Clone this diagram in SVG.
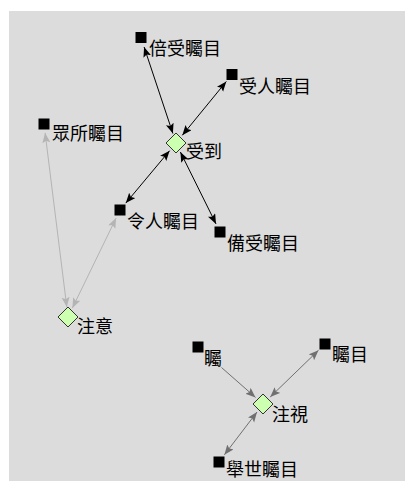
<svg xmlns="http://www.w3.org/2000/svg" width="405" height="481" viewBox="0 0 405 481">
<style>
.bg{fill:#dcdcdc}
.sq{fill:#000}
.dm{fill:#ccffb0;stroke:#333;stroke-width:1}
.lbl{font-family:"Noto Sans CJK TC","Noto Sans CJK SC",sans-serif;font-size:18px;fill:#000}
.c1{stroke:#000;stroke-width:1;fill:none;marker-start:url(#a1);marker-end:url(#a1)}
.c2{stroke:#b4b4b4;stroke-width:1;fill:none;marker-start:url(#a2);marker-end:url(#a2)}
.c3{stroke:#707070;stroke-width:1;fill:none;marker-start:url(#a3);marker-end:url(#a3)}
</style>
<defs>
<marker id="a1" markerUnits="userSpaceOnUse" markerWidth="11" markerHeight="9" refX="10" refY="4" orient="auto-start-reverse"><path d="M0,0 L10,4 L0,8 L2,4 z" fill="#000"/></marker>
<marker id="a2" markerUnits="userSpaceOnUse" markerWidth="11" markerHeight="9" refX="10" refY="4" orient="auto-start-reverse"><path d="M0,0 L10,4 L0,8 L2,4 z" fill="#b4b4b4"/></marker>
<marker id="a3" markerUnits="userSpaceOnUse" markerWidth="11" markerHeight="9" refX="10" refY="4" orient="auto-start-reverse"><path d="M0,0 L10,4 L0,8 L2,4 z" fill="#707070"/></marker>
</defs>
<rect x="0" y="0" width="405" height="481" fill="#fff"/>
<rect class="bg" x="9" y="11" width="396" height="470"/>
<g id="connectors">
<line class="c1" x1="144.1" y1="47" x2="172.9" y2="133.5"/>
<line class="c1" x1="226.3" y1="81.5" x2="182.3" y2="135.3"/>
<line class="c1" x1="169.6" y1="150.7" x2="125.8" y2="203.1"/>
<line class="c1" x1="180.4" y1="152" x2="216" y2="223.9"/>
<line class="c2" x1="45.1" y1="132.9" x2="66.8" y2="307.1"/>
<line class="c2" x1="116.1" y1="218.1" x2="72.4" y2="308"/>
<line class="c3" x1="221.5" y1="367.5" x2="255.5" y2="397.4" style="marker-start:none"/>
<line class="c3" x1="318.5" y1="350.3" x2="270.2" y2="397"/>
<line class="c3" x1="224.4" y1="454.8" x2="257" y2="412"/>
</g>
<g id="n-beishou"><rect class="sq" x="135.5" y="32" width="11" height="11"/><text class="lbl" x="149" y="55">倍受矚目</text></g>
<g id="n-shouren"><rect class="sq" x="226.5" y="69" width="11" height="11"/><text class="lbl" x="239" y="93">受人矚目</text></g>
<g id="n-zhongsuo"><rect class="sq" x="38.5" y="118.5" width="11" height="11"/><text class="lbl" x="52" y="140">眾所矚目</text></g>
<g id="n-shoudao"><path class="dm" d="M176,133 L186,143 L176,153 L166,143 z"/><text class="lbl" x="186" y="158">受到</text></g>
<g id="n-lingren"><rect class="sq" x="114.5" y="204.5" width="11" height="11"/><text class="lbl" x="127" y="228">令人矚目</text></g>
<g id="n-beishou2"><rect class="sq" x="214.5" y="226.5" width="11" height="11"/><text class="lbl" x="227" y="250">備受矚目</text></g>
<g id="n-zhuyi"><path class="dm" d="M68,307 L78,317 L68,327 L58,317 z"/><text class="lbl" x="77" y="333">注意</text></g>
<g id="n-zhu"><rect class="sq" x="192.5" y="341.5" width="11" height="11"/><text class="lbl" x="204" y="365">矚</text></g>
<g id="n-zhumu"><rect class="sq" x="319.5" y="338.5" width="11" height="11"/><text class="lbl" x="332" y="361">矚目</text></g>
<g id="n-zhushi"><path class="dm" d="M263,394 L273,404 L263,414 L253,404 z"/><text class="lbl" x="272" y="421">注視</text></g>
<g id="n-jushi"><rect class="sq" x="213.5" y="456.5" width="11" height="11"/><text class="lbl" x="226" y="476">舉世矚目</text></g>
</svg>
